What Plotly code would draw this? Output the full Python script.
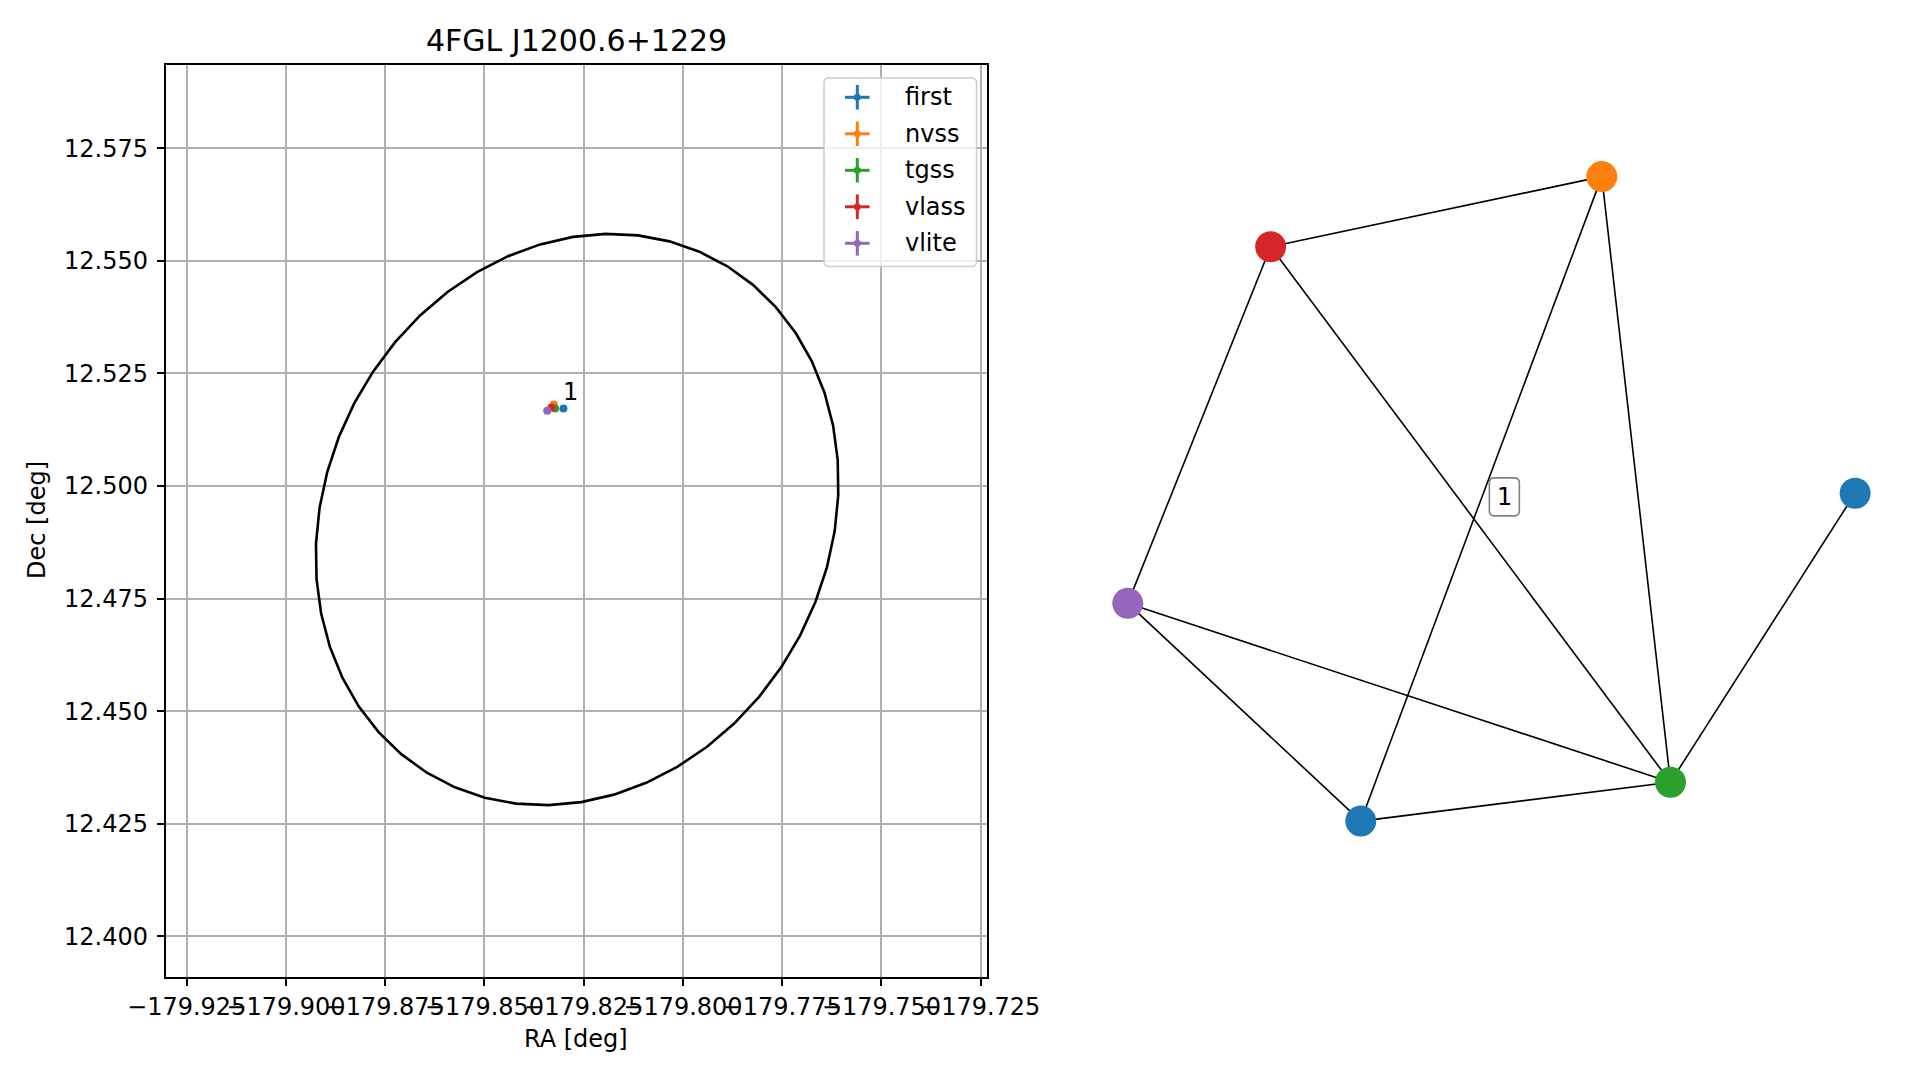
import numpy as np
import plotly.graph_objects as go

# ---------------- data ----------------
catalogs = ["first", "nvss", "tgss", "vlass", "vlite"]
ra = [-179.8301, -179.8325, -179.8322, -179.8331, -179.8342]
dec = [12.5172, 12.5181, 12.5172, 12.5174, 12.5167]
colors = ["#1f77b4", "#ff7f0e", "#2ca02c", "#d62728", "#9467bd"]

title = "4FGL J1200.6+1229"
group_label = "1"
group_label_pos = (-179.8283, 12.5209)

# 4FGL error ellipse parameters
ell_center = (-179.82666, 12.49254)
ell_a = 0.0689
ell_b = 0.0601
ell_angle_deg = 37.0
ell_vertices = 50

xticks = [-179.925, -179.900, -179.875, -179.850, -179.825, -179.800, -179.775, -179.750, -179.725]
yticks = [12.400, 12.425, 12.450, 12.475, 12.500, 12.525, 12.550, 12.575]
x_range = [-179.93029, -179.72334]
y_range = [12.39090, 12.59352]

# graph (right panel)
node_x = [0.302, -0.609, 0.999, -1.002, 0.491, -0.361]
node_y = [0.888, 0.695, 0.017, -0.286, -0.778, -0.885]
node_colors = ["#ff7f0e", "#d62728", "#1f77b4", "#9467bd", "#2ca02c", "#1f77b4"]
edges = [(1, 0), (1, 3), (1, 4), (0, 5), (0, 4), (3, 4), (3, 5), (5, 4), (4, 2)]
graph_label_pos = (0.034, 0.007)

# ---------------- figure ----------------
OFF = 8                      # page body margin
W, H = 1919 - 2 * OFF, 1080 - 2 * OFF
FONT = "DejaVu Sans"
FS = 24


def PX(px):
    return (px - OFF) / W


def PY(py):
    return 1 - (py - OFF) / H


def rrect(x0, y0, x1, y1, r):
    """rounded rectangle path in paper coords from page pixel box"""
    rx, ry = r / W, r / H
    a0, a1, b0, b1 = PX(x0), PX(x1), PY(y1), PY(y0)
    return (f"M{a0 + rx},{b0} L{a1 - rx},{b0} Q{a1},{b0} {a1},{b0 + ry} "
            f"L{a1},{b1 - ry} Q{a1},{b1} {a1 - rx},{b1} L{a0 + rx},{b1} "
            f"Q{a0},{b1} {a0},{b1 - ry} L{a0},{b0 + ry} Q{a0},{b0} {a0 + rx},{b0} Z")


fig = go.Figure()

# ellipse
t = np.linspace(0, 2 * np.pi, ell_vertices + 1)
th = np.deg2rad(ell_angle_deg)
ex = ell_center[0] + ell_a * np.cos(th) * np.cos(t) - ell_b * np.sin(th) * np.sin(t)
ey = ell_center[1] + ell_a * np.sin(th) * np.cos(t) + ell_b * np.cos(th) * np.sin(t)
fig.add_trace(go.Scatter(x=ex, y=ey, mode="lines", line=dict(color="black", width=2.6),
                         showlegend=False, hoverinfo="skip", xaxis="x", yaxis="y"))

for i, c in enumerate(catalogs):
    fig.add_trace(go.Scatter(x=[ra[i]], y=[dec[i]], mode="markers",
                             marker=dict(color=colors[i], size=8),
                             name=c, showlegend=False, xaxis="x", yaxis="y"))

# graph edges
for (i, j) in edges:
    fig.add_trace(go.Scatter(x=[node_x[i], node_x[j]], y=[node_y[i], node_y[j]], mode="lines",
                             line=dict(color="black", width=1.6), showlegend=False,
                             hoverinfo="skip", xaxis="x2", yaxis="y2"))
fig.add_trace(go.Scatter(x=node_x, y=node_y, mode="markers",
                         marker=dict(color=node_colors, size=31),
                         showlegend=False, xaxis="x2", yaxis="y2"))

# layout geometry (page pixels)
ax_l, ax_r, ax_t, ax_b = 165.7, 987.3, 64.7, 977.3
g_cx, g_cy, g_s = 1492.0, 499.4, 363.5
g_dom0 = 0.55

tick_text = ["\u2212%.3f" % abs(v) if v < 0 else "%.3f" % v for v in xticks]

fig.update_layout(
    width=W, height=H, autosize=False,
    margin=dict(l=0, r=0, t=0, b=0, autoexpand=False),
    paper_bgcolor="white", plot_bgcolor="white",
    font=dict(family=FONT, size=FS, color="black"),
    showlegend=False,
    xaxis=dict(domain=[PX(ax_l), PX(ax_r)], range=x_range, tickvals=xticks, ticktext=tick_text,
               tickangle=0, showgrid=True, gridcolor="#b0b0b0", gridwidth=1.6,
               showline=True, linecolor="black", linewidth=1.8, mirror=True,
               ticks="outside", ticklen=7, tickwidth=1.6, tickcolor="black",
               zeroline=False, anchor="y", automargin=False, tickfont=dict(size=FS)),
    yaxis=dict(domain=[PY(ax_b), PY(ax_t)], range=y_range, tickvals=yticks,
               tickformat=".3f", showgrid=True, gridcolor="#b0b0b0", gridwidth=1.6,
               showline=True, linecolor="black", linewidth=1.8, mirror=True,
               ticks="outside", ticklen=7, tickwidth=1.6, tickcolor="black",
               ticklabelstandoff=4,
               zeroline=False, anchor="x", automargin=False, tickfont=dict(size=FS)),
    xaxis2=dict(domain=[g_dom0, 1.0],
                range=[(g_dom0 * W + OFF - g_cx) / g_s, (W + OFF - g_cx) / g_s],
                visible=False, anchor="y2", automargin=False),
    yaxis2=dict(domain=[0, 1], range=[(g_cy - (H + OFF)) / g_s, (g_cy - OFF) / g_s],
                visible=False, anchor="x2", automargin=False),
)

# ---- legend (drawn as in the reference: errorbar crosses) ----
shapes = []
shapes.append(dict(type="path", xref="paper", yref="paper",
                   path=rrect(824, 78, 976.5, 266.5, 5),
                   fillcolor="rgba(255,255,255,0.8)", line=dict(color="#cccccc", width=1.5),
                   layer="above"))
leg_cx, leg_y0, leg_dy, leg_half, leg_tx = 857.3, 97.3, 36.5, 12.3, 903.3
for i, c in enumerate(catalogs):
    cy = leg_y0 + i * leg_dy
    shapes.append(dict(type="line", xref="paper", yref="paper",
                       x0=PX(leg_cx - leg_half), x1=PX(leg_cx + leg_half), y0=PY(cy), y1=PY(cy),
                       line=dict(color=colors[i], width=3), layer="above"))
    shapes.append(dict(type="line", xref="paper", yref="paper",
                       x0=PX(leg_cx), x1=PX(leg_cx), y0=PY(cy - leg_half), y1=PY(cy + leg_half),
                       line=dict(color=colors[i], width=3), layer="above"))
    shapes.append(dict(type="circle", xref="paper", yref="paper",
                       x0=PX(leg_cx - 3.5), x1=PX(leg_cx + 3.5), y0=PY(cy + 3.5), y1=PY(cy - 3.5),
                       fillcolor=colors[i], line=dict(width=0), layer="above"))
    fig.add_annotation(text=c, xref="paper", yref="paper", x=PX(leg_tx), y=PY(cy),
                       showarrow=False, xanchor="left", yanchor="middle", font=dict(size=FS))

# rounded box for graph label
lbl_px = g_cx + graph_label_pos[0] * g_s
lbl_py = g_cy - graph_label_pos[1] * g_s
shapes.append(dict(type="path", xref="paper", yref="paper",
                   path=rrect(lbl_px - 15, lbl_py - 19, lbl_px + 15, lbl_py + 19, 5),
                   fillcolor="white", line=dict(color="#808080", width=1.6), layer="above"))
fig.update_layout(shapes=shapes)

fig.add_annotation(text=title, xref="paper", yref="paper", x=PX(576), y=PY(40),
                   showarrow=False, font=dict(size=30), xanchor="center", yanchor="middle")
fig.add_annotation(text="RA [deg]", xref="paper", yref="paper", x=PX(576), y=PY(1039),
                   showarrow=False, font=dict(size=FS), xanchor="center", yanchor="middle")
fig.add_annotation(text="Dec [deg]", xref="paper", yref="paper", x=PX(37), y=PY(520),
                   showarrow=False, font=dict(size=FS), textangle=-90,
                   xanchor="center", yanchor="middle")
fig.add_annotation(text=group_label, x=group_label_pos[0], y=group_label_pos[1], xref="x", yref="y",
                   showarrow=False, font=dict(size=FS), xanchor="center", yanchor="middle")
fig.add_annotation(text=group_label, x=graph_label_pos[0], y=graph_label_pos[1], xref="x2", yref="y2",
                   showarrow=False, font=dict(size=FS), xanchor="center", yanchor="middle")

fig.write_html("out.html")
